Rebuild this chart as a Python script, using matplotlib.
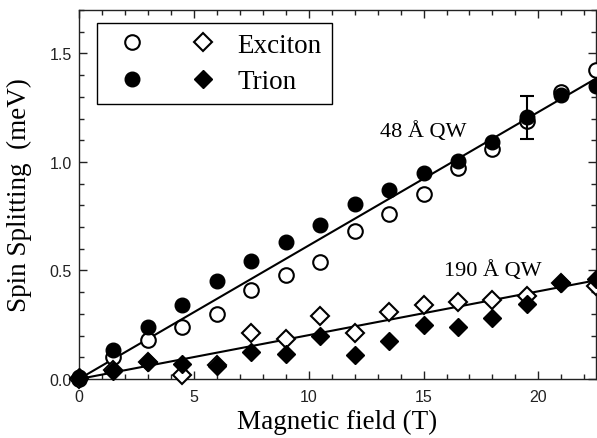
import numpy as np
import matplotlib
matplotlib.use("Agg")
from matplotlib import pyplot as plt
from matplotlib.legend_handler import HandlerTuple
from matplotlib.ticker import MultipleLocator

# data
field = [0, 1.5, 3, 4.5, 6, 7.5, 9, 10.5, 12, 13.5, 15, 16.5, 18, 19.5, 21, 22.5]
qw48_exciton = [0.0, 0.10, 0.18, 0.24, 0.30, 0.41, 0.48, 0.54, 0.68, 0.76, 0.85, 0.97, 1.06, 1.19, 1.32, 1.425]
qw48_trion = [0.01, 0.135, 0.24, 0.34, 0.45, 0.545, 0.63, 0.71, 0.805, 0.87, 0.95, 1.005, 1.09, 1.205, 1.31, 1.35]
qw190_exciton = [0.0, 0.04, 0.08, 0.018, 0.065, 0.21, 0.184, 0.292, 0.212, 0.31, 0.341, 0.353, 0.364, 0.384, 0.44, 0.43]
qw190_trion = [0.01, 0.038, 0.08, 0.069, 0.06, 0.123, 0.115, 0.20, 0.11, 0.177, 0.249, 0.238, 0.28, 0.346, 0.442, 0.461]
err_x, err_y, err_size = 19.5, 1.205, 0.1
slope_48 = 0.0615
slope_190 = 0.0202

plt.rcParams['font.family'] = 'Liberation Serif'

fig = plt.figure(figsize=(5.97, 4.39), dpi=100)
ax = fig.add_axes([0.1323, 0.1344, 0.8657, 0.8406])

fit_x = np.array([0, 22.5])
ax.plot(fit_x, slope_48 * fit_x, color='black', lw=1.5, zorder=2)
ax.plot(fit_x, slope_190 * fit_x, color='black', lw=1.5, zorder=2)

oc, = ax.plot(field, qw48_exciton, 'o', ms=10.5, mfc='white', mec='black', mew=1.5, ls='none', clip_on=False, zorder=3)
od, = ax.plot(field, qw190_exciton, 'D', ms=9.5, mfc='white', mec='black', mew=1.5, ls='none', clip_on=False, zorder=3)
fc, = ax.plot(field, qw48_trion, 'o', ms=10.5, color='black', ls='none', clip_on=False, zorder=4)
fd, = ax.plot(field, qw190_trion, 'D', ms=9.5, color='black', ls='none', clip_on=False, zorder=4)
ax.errorbar([err_x], [err_y], yerr=[err_size], fmt='none', ecolor='black', elinewidth=1.5, capsize=5, capthick=1.5, zorder=4)

ax.text(15.0, 1.14, "48 Å QW", fontsize=16, ha='center', va='center')
ax.text(18.0, 0.50, "190 Å QW", fontsize=16, ha='center', va='center')

ax.set_xlim(0, 22.5)
ax.set_ylim(0, 1.7)
ax.xaxis.set_major_locator(MultipleLocator(5))
ax.xaxis.set_minor_locator(MultipleLocator(1))
ax.yaxis.set_major_locator(MultipleLocator(0.5))
ax.yaxis.set_minor_locator(MultipleLocator(0.1))
ax.yaxis.set_major_formatter(matplotlib.ticker.FormatStrFormatter('%.1f'))
ax.tick_params(which='both', direction='in', top=True, right=True, colors='#222222', width=1)
ax.tick_params(which='major', length=6)
ax.tick_params(which='minor', length=3.5)
ax.tick_params(axis='x', pad=7)
ax.tick_params(axis='y', pad=5)
for lbl in ax.get_xticklabels() + ax.get_yticklabels():
    lbl.set_fontfamily('Liberation Sans')
    lbl.set_fontsize(11.5)
for s in ax.spines.values():
    s.set_linewidth(1)
    s.set_color('#222222')

ax.set_xlabel("Magnetic field (T)", fontsize=19.5)
ax.set_ylabel("Spin Splitting  (meV)", fontsize=19.5)
ax.yaxis.set_label_coords(-0.09, 0.5)
ax.xaxis.set_label_coords(0.5, -0.082)

leg = ax.legend([(oc, od), (fc, fd)], ["Exciton", "Trion"],
                handler_map={tuple: HandlerTuple(ndivide=None, pad=0.78)},
                loc='upper left', bbox_to_anchor=(0.035, 0.965), borderaxespad=0,
                fontsize=19.5, handlelength=4.48, handletextpad=0.33, borderpad=0.37,
                labelspacing=0.42, fancybox=False, framealpha=1, edgecolor='black',
                numpoints=1)
leg.get_frame().set_linewidth(1)

plt.savefig("out.png")
